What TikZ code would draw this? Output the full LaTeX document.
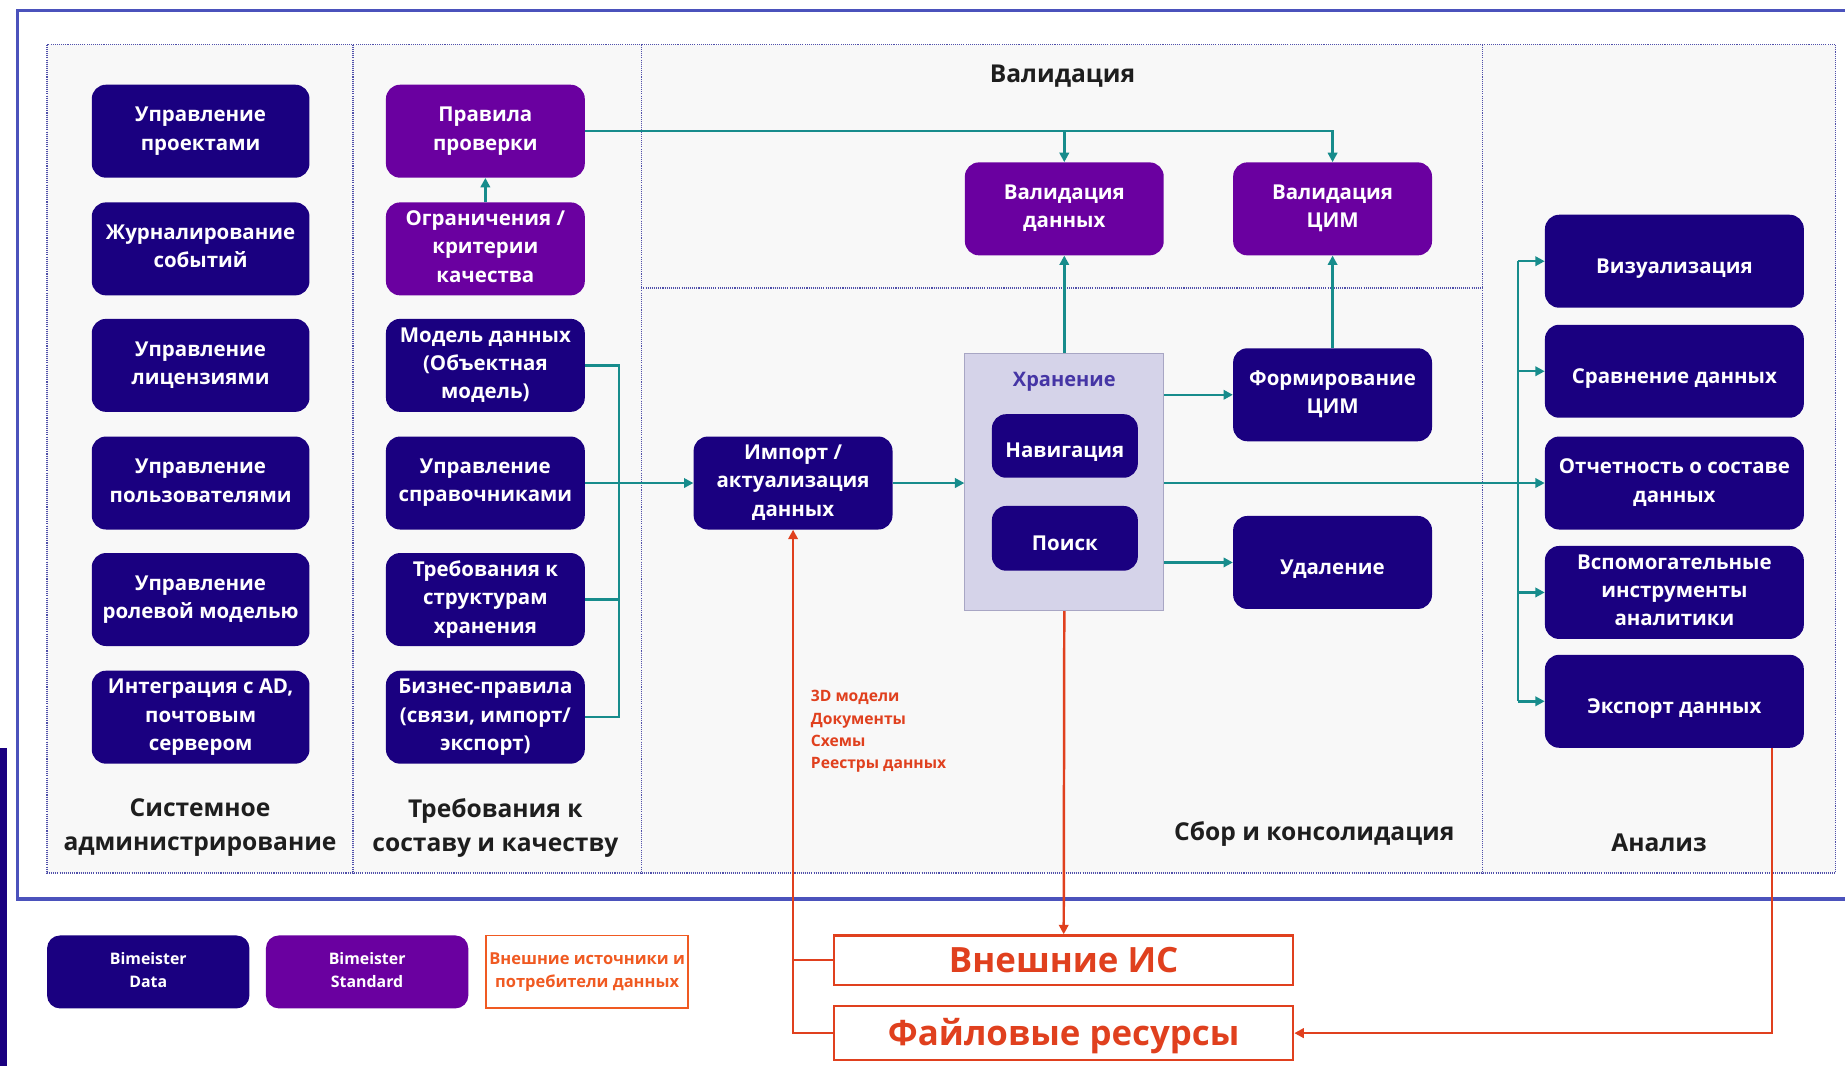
\documentclass[tikz,border=0pt]{standalone}
\usepackage{fontspec}
\setmainfont{Open Sans}
\usetikzlibrary{arrows.meta}
\definecolor{navy}{HTML}{1A0080}
\definecolor{purp}{HTML}{6A00A0}
\definecolor{tealc}{HTML}{178C8C}
\definecolor{redo}{HTML}{E0401E}
\definecolor{orng}{HTML}{F05A22}
\definecolor{framec}{HTML}{4B52BC}
\definecolor{dotc}{HTML}{5050AA}
\definecolor{panel}{HTML}{F8F8F8}
\definecolor{stor}{HTML}{D5D3E9}
\definecolor{storb}{HTML}{A8A6C4}
\definecolor{stort}{HTML}{4535A5}
\definecolor{sectc}{HTML}{1E1E1E}
\begin{document}
\begin{tikzpicture}[x=1pt,y=-1pt,
  struts/.style={execute at begin node={\strut}, execute at end node={\strut}},
  vpad/.style 2 args={execute at begin node={\rule{0pt}{#1em}}, execute at end node={\rule[-#2em]{0pt}{#2em}}},
  dbox/.style={rounded corners=12pt, fill=navy, text=white, align=center, inner sep=0pt, vpad={1.4}{0.23},
    font=\bfseries\fontsize{17.4}{24}\selectfont},
  pbox/.style={dbox, fill=purp},
  c1/.style={minimum width=185pt, minimum height=79pt},
  c2/.style={minimum width=169pt, minimum height=79pt},
  c4/.style={minimum width=220pt, minimum height=79pt},
  sect/.style={text=sectc, align=center, vpad={1.35}{0.23}, font=\bfseries\fontsize{20.9}{29}\selectfont},
  tline/.style={draw=tealc, line width=2.1pt},
  tarrow/.style={tline, -{Triangle[length=8pt,width=8pt]}},
  rline/.style={draw=redo, line width=2.1pt},
  rarrow/.style={rline, -{Triangle[length=8pt,width=8pt]}},
  dotln/.style={draw=dotc, line width=1.1pt, dash pattern=on 0.9pt off 0.9pt},
  extbox/.style={draw=redo, line width=2pt, fill=white, text=redo, inner sep=0pt, vpad={0.96}{0.23},
    font=\bfseries\fontsize{29.6}{34}\selectfont, minimum width=390pt},
  legbox/.style={rounded corners=11pt, inner sep=0pt, minimum width=172pt, minimum height=62pt,
    align=center, vpad={1.75}{0.23}, font=\bfseries\fontsize{13.5}{19}\selectfont}
]
\useasboundingbox (0,0) rectangle (1568,906);
\fill[white] (0,0) rectangle (1568,906);
% outer frame
\draw[framec, line width=3pt] (1580,9) -- (15,9) -- (15,764) -- (1580,764);
\fill[navy] (0,636) rectangle (6,906);
% panels
\fill[panel] (40,38) rectangle (1560,742);
\draw[dotln] (40,38) rectangle (1560,742);
\draw[dotln] (300,38) -- (300,742);
\draw[dotln] (545,38) -- (545,742);
\draw[dotln] (1260,38) -- (1260,742);
\draw[dotln, line width=1.5pt] (545,245) -- (1260,245);
% column 1
\node[dbox,c1] (a1) at (170.5,111.5) {Управление\\проектами};
\node[dbox,c1] (a2) at (170.5,211.5) {Журналирование\\событий};
\node[dbox,c1] (a3) at (170.5,310.5) {Управление\\лицензиями};
\node[dbox,c1] (a4) at (170.5,410.5) {Управление\\пользователями};
\node[dbox,c1] (a5) at (170.5,509.5) {Управление\\ролевой моделью};
\node[dbox,c1] (a6) at (170.5,609.5) {Интеграция с AD,\\почтовым\\сервером};
\node[sect] (l1) at (170,703) {Системное\\администрирование};
% column 2
\node[pbox,c2] (b1) at (412.5,111.5) {Правила\\проверки};
\node[pbox,c2] (b2) at (412.5,211.5) {Ограничения /\\критерии\\качества};
\node[dbox,c2] (b3) at (412.5,310.5) {Модель данных\\(Объектная\\модель)};
\node[dbox,c2] (b4) at (412.5,410.5) {Управление\\справочниками};
\node[dbox,c2] (b5) at (412.5,509.5) {Требования к\\структурам\\хранения};
\node[dbox,c2] (b6) at (412.5,609.5) {Бизнес-правила\\(связи, импорт/\\экспорт)};
\node[sect] (l2) at (421,704) {Требования к\\составу и качеству};
% column 3
\node[sect] (l3) at (903,58) {Валидация};
\node[pbox,c2] (vd) at (904.5,177.5) {Валидация\\данных};
\node[pbox,c2] (vc) at (1132.5,177.5) {Валидация\\ЦИМ};
\node[dbox,c2] (imp) at (674,410.5) {Импорт /\\актуализация\\данных};
\node[draw=storb, fill=stor, line width=0.8pt, minimum width=169pt, minimum height=219pt, inner sep=0pt] (st) at (904.5,409.5) {};
\node[text=stort, struts, font=\bfseries\fontsize{17}{22}\selectfont] (stt) at (904.5,324) {Хранение};
\node[dbox, minimum width=124pt, minimum height=54pt] (nav) at (905,379) {Навигация};
\node[dbox, minimum width=124pt, minimum height=55pt] (srch) at (905,457.5) {Поиск};
\node[dbox,c2] (form) at (1132.5,335.5) {Формирование\\ЦИМ};
\node[dbox,c2] (del) at (1132.5,478) {Удаление};
\node[sect] (l4) at (1117,703) {Сбор и консолидация};
% column 4
\node[dbox,c4] (vis) at (1423,222) {Визуализация};
\node[dbox,c4] (cmp) at (1423,315.5) {Сравнение данных};
\node[dbox,c4] (rep) at (1423,410.5) {Отчетность о составе\\данных};
\node[dbox,c4] (aux) at (1423,503.5) {Вспомогательные\\инструменты\\аналитики};
\node[dbox,c4] (exp) at (1423,596) {Экспорт данных};
\node[sect] (l5) at (1410,712) {Анализ};
% external
\node[extbox, minimum height=42pt] (ext) at (904,816) {Внешние ИС};
\node[extbox, minimum height=46pt] (fil) at (904,878) {Файловые ресурсы};
\node[anchor=north west, inner sep=0pt, align=left, struts, text=redo, font=\bfseries\fontsize{13.3}{19}\selectfont] (srcs) at (689,586.5) {3D модели\\Документы\\Схемы\\Реестры данных};
% legend
\node[legbox, fill=navy, text=white] (lg1) at (126,826) {Bimeister\\Data};
\node[legbox, fill=purp, text=white] (lg2) at (312,826) {Bimeister\\Standard};
\node[draw=orng, line width=1.6pt, fill=white, text=orng, inner sep=0pt, minimum width=172pt, minimum height=62pt, align=center, vpad={1.75}{0.23}, font=\bfseries\fontsize{14}{19}\selectfont] (lg3) at (499,826) {Внешние источники и\\потребители данных};
% teal connectors
\draw[tarrow] (b2.north) -- (b1.south);
\draw[tarrow] (b1.east) -| (vc.north);
\draw[tarrow] (b1.east -| vd.north) -- (vd.north);
\coordinate (bus2) at (526,0);
\draw[tline] (b3.east) -- (b3.east -| bus2) -- (b6.east -| bus2) -- (b6.east);
\draw[tline] (b5.east) -- (b5.east -| bus2);
\draw[tarrow] (b4.east) -- (imp.west);
\draw[tarrow] (imp.east) -- (imp.east -| st.west);
\draw[tarrow] (st.north) -- (vd.south);
\draw[tarrow] (st.east |- form.west) -- (form.west);
\draw[tarrow] (st.east |- del.west) -- (del.west);
\draw[tarrow] (form.north) -- (vc.south);
\coordinate (bus4) at (1290,0);
\draw[tarrow] (st.east |- rep.west) -- (rep.west);
\draw[tline] (vis.west -| bus4) -- (exp.west -| bus4);
\draw[tarrow] (vis.west -| bus4) -- (vis.west);
\draw[tarrow] (cmp.west -| bus4) -- (cmp.west);
\draw[tarrow] (aux.west -| bus4) -- (aux.west);
\draw[tarrow] (exp.west -| bus4) -- (exp.west);
% red connectors
\draw[rarrow] (st.south) -- (ext.north);
\draw[rline] (ext.west) -- (ext.west -| imp.south);
\draw[rarrow] (fil.west) -| (imp.south);
\draw[rarrow] ([xshift=83pt]exp.south) |- (fil.east);
\end{tikzpicture}
\end{document}
